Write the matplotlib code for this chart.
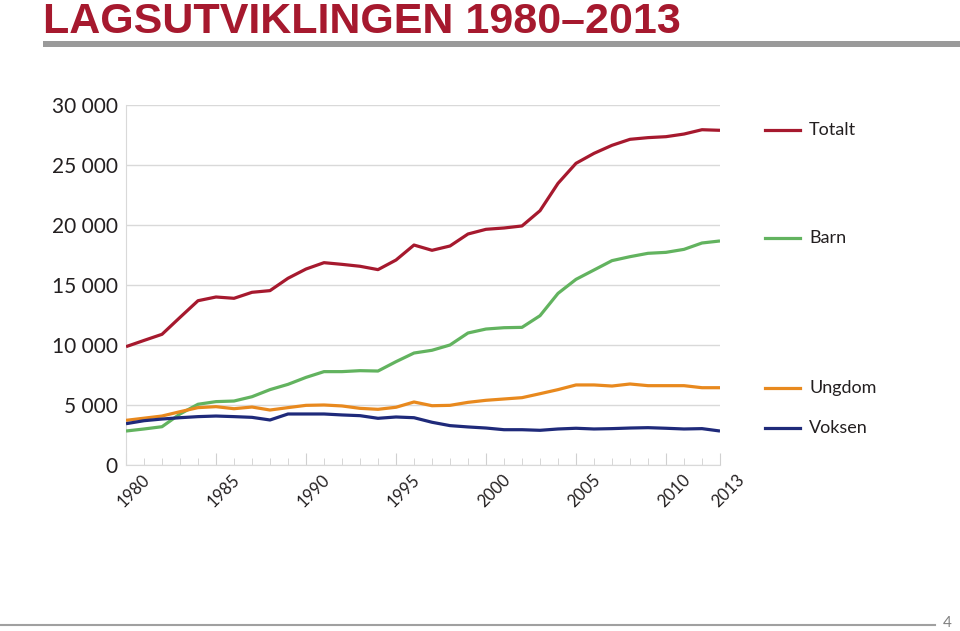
import matplotlib.pyplot as plt
from matplotlib.lines import Line2D
from matplotlib.patches import Rectangle
from matplotlib.transforms import ScaledTranslation

plt.rcParams['font.family'] = ['Lato', 'DejaVu Sans']

years = list(range(1980, 2014))

totalt = [9860, 10380, 10890, 12300, 13690, 14000, 13890, 14390, 14530, 15560,
          16330, 16860, 16720, 16560, 16280, 17080, 18330, 17890, 18250, 19250,
          19640, 19750, 19920, 21190, 23470, 25140, 25970, 26640, 27140, 27280,
          27360, 27580, 27940, 27890]
barn = [2830, 3000, 3190, 4250, 5060, 5280, 5330, 5690, 6280, 6720,
        7300, 7780, 7780, 7860, 7830, 8610, 9330, 9560, 10000, 11000,
        11330, 11440, 11470, 12440, 14300, 15470, 16250, 17030, 17360, 17640,
        17720, 17970, 18500, 18670]
ungdom = [3720, 3900, 4080, 4440, 4780, 4860, 4690, 4830, 4580, 4780,
          4970, 5000, 4920, 4720, 4640, 4810, 5250, 4940, 4970, 5220,
          5390, 5500, 5610, 5940, 6280, 6670, 6670, 6580, 6750, 6610,
          6610, 6610, 6440, 6440]
voksen = [3440, 3690, 3830, 3940, 4030, 4080, 4030, 3970, 3750, 4250,
          4250, 4250, 4170, 4110, 3890, 4000, 3940, 3560, 3280, 3170,
          3080, 2940, 2940, 2890, 3000, 3060, 3000, 3030, 3080, 3110,
          3060, 3000, 3030, 2830]

names = ['Totalt', 'Barn', 'Ungdom', 'Voksen']
colors = ['#a6192e', '#62b35f', '#e8891e', '#1f2a7a']
label_y = [27900, 18900, 6400, 3100]

fig = plt.figure(figsize=(9.6, 6.31), dpi=100)
ax = fig.add_axes([0.13125, 0.2631, 0.61875, 0.5705])

for vals, c in zip([totalt, barn, ungdom, voksen], colors):
    ax.plot(years, vals, color=c, lw=2.3, solid_capstyle='butt', zorder=3)

ax.set_xlim(1980, 2013)
ax.set_ylim(0, 30000)
ax.set_yticks(range(0, 30001, 5000))
ax.set_yticklabels(['0' if v == 0 else f'{v // 1000} 000' for v in range(0, 30001, 5000)])
ax.grid(axis='y', color='#d9d9d9', lw=1)
ax.set_axisbelow(True)
for s in ['top', 'right']:
    ax.spines[s].set_visible(False)
ax.spines['left'].set_color('#d9d9d9')
ax.spines['bottom'].set_color('#d9d9d9')
ax.tick_params(axis='y', length=0, pad=6, labelsize=15, labelcolor='#231f20')

ax.set_xticks([1980, 1985, 1990, 1995, 2000, 2005, 2010, 2013])
ax.set_xticks(years, minor=True)
ax.tick_params(axis='x', which='major', direction='in', length=9, color='#d0d0d0',
               labelsize=12, labelcolor='#231f20', pad=6, labelrotation=45)
ax.tick_params(axis='x', which='minor', direction='in', length=5, color='#d0d0d0')
shift = ScaledTranslation(8 / 100, 2 / 100, fig.dpi_scale_trans)
for lab in ax.get_xticklabels():
    lab.set_ha('center')
    lab.set_transform(lab.get_transform() + shift)

# series labels on the right
for n, c, yv in zip(names, colors, label_y):
    ax.add_line(Line2D([1.075, 1.135], [yv, yv], color=c, lw=2.3,
                       transform=ax.get_yaxis_transform(), clip_on=False))
    ax.text(1.15, yv, n, transform=ax.get_yaxis_transform(), va='center',
            ha='left', fontsize=13, color='#231f20')

fig.text(43 / 960, 1 - 33 / 631, 'LAGSUTVIKLINGEN 1980–2013', fontsize=31,
         fontweight='bold', color='#a6192e', va='baseline', ha='left',
         family=['Liberation Sans', 'DejaVu Sans'])
fig.add_artist(Rectangle((43 / 960, 1 - 47 / 631), 1 - 43 / 960, 6 / 631,
                         transform=fig.transFigure, color='#9a9a9a', lw=0))

fig.add_artist(Line2D([0, 935 / 960], [1 - 625 / 631] * 2, color='#a0a0a0', lw=1.5,
                      transform=fig.transFigure))
fig.text(947 / 960, 1 - 630 / 631, '4', fontsize=11, color='#808080',
         va='bottom', ha='center')

fig.savefig('out.png', dpi=100)
